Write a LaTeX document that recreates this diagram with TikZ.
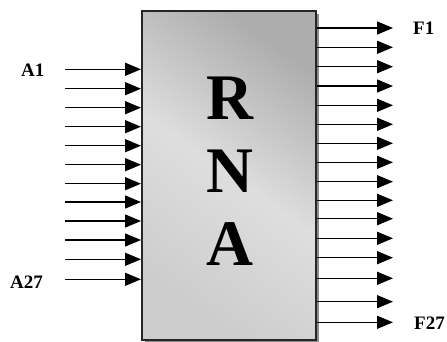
\documentclass[tikz,border=0pt]{standalone}
\usepackage{fontspec}
\setmainfont{Liberation Serif}
\newfontfamily\tms{Liberation Serif}
\usetikzlibrary{arrows.meta}
\begin{document}
\begin{tikzpicture}[x=1pt,y=-1pt,
  sig/.style={line width=1.5pt,-{Triangle[length=16pt,width=13pt]}},
  lbl/.style={font=\tms\bfseries\fontsize{19}{19}\selectfont,inner sep=0pt},
  big/.style={font=\tms\bfseries\fontsize{65}{65}\selectfont,inner sep=0pt}]
\useasboundingbox (0,0) rectangle (447,342);
% shadow
\fill[black!45] (145,14) rectangle (319,342);
% box
\node[draw=black!85,line width=2pt,minimum width=174pt,minimum height=329pt,
  inner sep=0pt,shading=axis,top color=black!32,bottom color=black!20,middle color=black!13,
  shading angle=-35] (rna) at (229,175.5) {};
\node[big] (r) at (230,98) {R};
\node[big] (n) at (230,171) {N};
\node[big] (a) at (230,244) {A};
% inputs
\foreach \y [count=\i] in {69.3,88.7,107.7,126.7,145.7,164.7,183.7,202,221,240,259.3,279.3}{
  \coordinate (in\i) at (65,\y);
  \draw[sig] (in\i) -- (in\i -| rna.west);
}
% outputs
\foreach \y [count=\i] in {28,47.3,66.7,86,105.3,124.3,143.3,162.3,181.7,200.3,218.7,238.3,257.7,278.3,301.7,322.3}{
  \coordinate (out\i) at (393,\y);
  \draw[sig] (out\i -| rna.east) -- (out\i);
}
\node[lbl,anchor=west] (la1) at (21,70) {A1};
\node[lbl,anchor=west] (la27) at (10,282) {A27};
\node[lbl,anchor=west] (lf1) at (413,28.5) {F1};
\node[lbl,anchor=west] (lf27) at (414,323) {F27};
\end{tikzpicture}
\end{document}
